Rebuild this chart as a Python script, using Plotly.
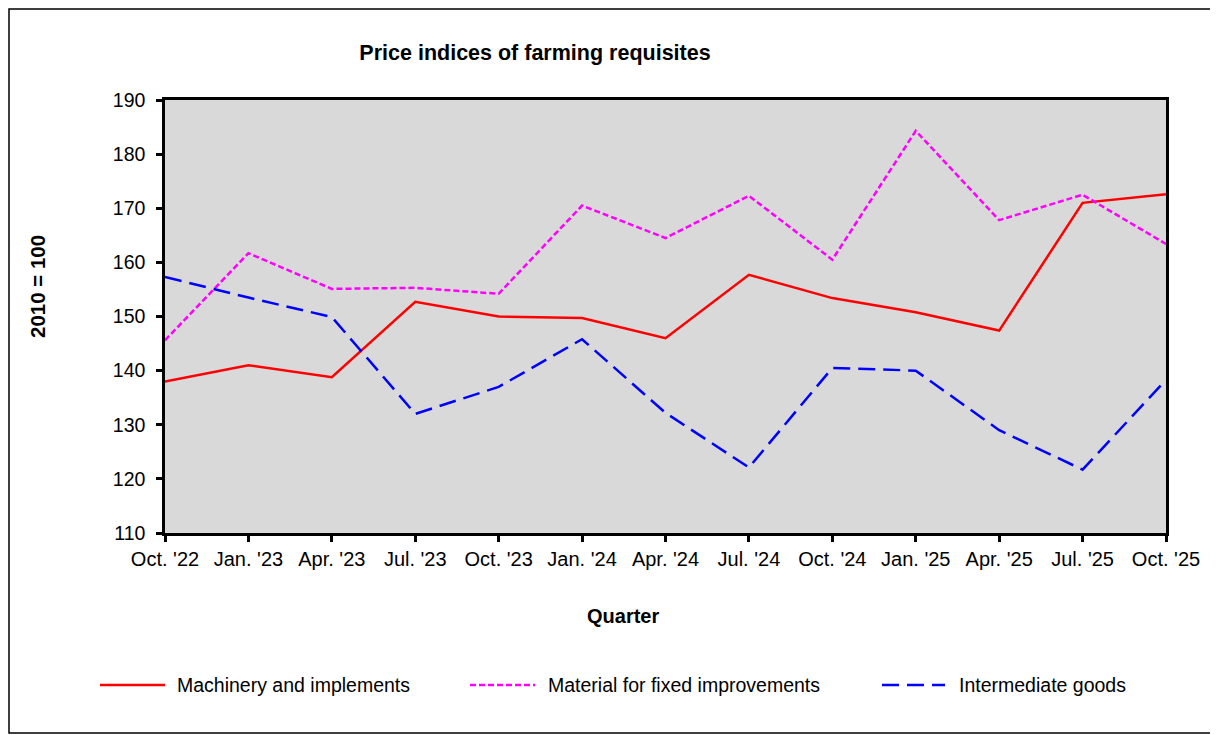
import plotly.graph_objects as go

quarters = ["Oct. '22", "Jan. '23", "Apr. '23", "Jul. '23", "Oct. '23", "Jan. '24", "Apr. '24",
            "Jul. '24", "Oct. '24", "Jan. '25", "Apr. '25", "Jul. '25", "Oct. '25"]
machinery = [138.0, 141.0, 138.8, 152.7, 150.0, 149.7, 146.0, 157.7, 153.4, 150.8, 147.4, 171.0, 172.6]
material = [145.6, 161.7, 155.1, 155.3, 154.2, 170.5, 164.5, 172.3, 160.5, 184.3, 167.8, 172.5, 163.4]
intermediate = [157.3, 153.5, 149.9, 132.0, 137.0, 145.8, 132.2, 122.1, 140.5, 140.0, 129.0, 121.7, 138.3]
y_ticks = [110, 120, 130, 140, 150, 160, 170, 180, 190]

series = [
    ("Machinery and implements", machinery, "#ff0000", "solid"),
    ("Material for fixed improvements", material, "#ff00ff", "6px,3px"),
    ("Intermediate goods", intermediate, "#0000ff", "17px,8px"),
]

# page offset (body margin) compensation
OFF = 8
W, H = 1218 - OFF, 735 - OFF
# plot area in page coords: x 165..1166, y 100..533
L, R, T, B = 165 - OFF, 1218 - 1166, 100 - OFF, 735 - 533
pw, ph = W - L - R, H - T - B


def px(x):
    """page x -> paper fraction"""
    return (x - OFF - L) / pw


def py(y):
    """page y -> paper fraction"""
    return (H - B - (y - OFF)) / ph


FONT = "Liberation Sans, Arial, sans-serif"

fig = go.Figure()
for name, vals, color, dash in series:
    fig.add_trace(go.Scatter(x=quarters, y=vals, mode="lines", name=name,
                             line=dict(color=color, width=2.5, dash=dash)))

# manual legend
legend_pos = [(100, 165, 175), (470, 535, 546), (882, 945, 957)]
ly = 685
for (name, vals, color, dash), (x0, x1, tx) in zip(series, legend_pos):
    fig.add_shape(type="line", xref="paper", yref="paper", x0=px(x0), x1=px(x1),
                  y0=py(ly), y1=py(ly), line=dict(color=color, width=2.5, dash=dash))
    fig.add_annotation(xref="paper", yref="paper", x=px(tx), y=py(ly), text=name,
                       showarrow=False, xanchor="left", yanchor="middle",
                       font=dict(family=FONT, size=19.5, color="black"))

# outer border
fig.add_shape(type="rect", xref="paper", yref="paper", x0=px(OFF + 1), x1=px(1216),
              y0=py(733), y1=py(OFF + 1), line=dict(color="black", width=1.5), layer="below")

# axis titles
fig.add_annotation(xref="paper", yref="paper", x=px(37), y=py(287), text="<b>2010 = 100</b>",
                   textangle=-90, showarrow=False, xanchor="center", yanchor="middle",
                   font=dict(family=FONT, size=20.5, color="black"))
fig.add_annotation(xref="paper", yref="paper", x=px(623), y=py(616), text="<b>Quarter</b>",
                   showarrow=False, xanchor="center", yanchor="middle",
                   font=dict(family=FONT, size=20, color="black"))

fig.update_layout(
    width=W, height=H,
    margin=dict(l=L, r=R, t=T, b=B),
    paper_bgcolor="white", plot_bgcolor="#d9d9d9",
    showlegend=False,
    title=dict(text="<b>Price indices of farming requisites</b>", x=px(535), xref="paper",
               xanchor="center", y=1 - (52 - OFF) / H, yref="container", yanchor="middle",
               font=dict(family=FONT, size=21.5, color="black")),
    font=dict(family=FONT, size=19, color="black"),
)
fig.update_xaxes(type="category", range=[0, 12], showgrid=False, showline=True, mirror=True,
                 linecolor="black", linewidth=2.5, ticks="outside", ticklen=6, tickwidth=2.5,
                 tickcolor="black", tickfont=dict(family=FONT, size=20, color="black"),
                 zeroline=False)
fig.update_yaxes(range=[110, 190], tickvals=y_ticks, showgrid=False, showline=True, mirror=True,
                 linecolor="black", linewidth=2.5, ticks="outside", ticklen=6, tickwidth=2.5,
                 tickcolor="black", tickfont=dict(family=FONT, size=19.5, color="black"),
                 zeroline=False, ticklabelstandoff=7)

fig.write_html("out.html")
